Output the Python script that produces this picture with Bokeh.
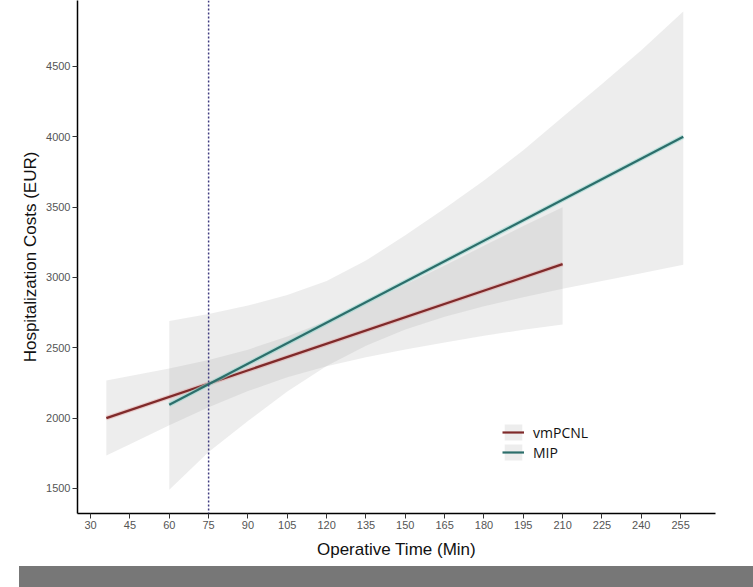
from bokeh.plotting import figure
from bokeh.models import Range1d, Span, Legend, LegendItem, FixedTicker, Div
from bokeh.layouts import column
from bokeh.embed import file_html
from bokeh.resources import INLINE

# ---- data ----
X_TICKS = [30, 45, 60, 75, 90, 105, 120, 135, 150, 165, 180, 195, 210, 225, 240, 255]
Y_TICKS = [1500, 2000, 2500, 3000, 3500, 4000, 4500]

REF_TIME = 75

VM_LINE_X = [36, 210]
VM_LINE_Y = [2000, 3095]
VM_X = [36, 45, 60, 75, 90, 105, 120, 135, 150, 165, 180, 195, 210]
VM_LO = [1735, 1815, 1950, 2078, 2193, 2290, 2368, 2432, 2488, 2538, 2585, 2628, 2665]
VM_HI = [2268, 2300, 2353, 2414, 2487, 2580, 2690, 2815, 2948, 3085, 3225, 3365, 3500]

MIP_LINE_X = [60, 256]
MIP_LINE_Y = [2095, 4000]
MIP_X = [60, 75, 90, 105, 120, 135, 150, 165, 180, 195, 210, 225, 240, 256]
MIP_LO = [1490, 1760, 1980, 2190, 2370, 2515, 2630, 2720, 2795, 2860, 2920, 2975, 3030, 3090]
MIP_HI = [2690, 2740, 2800, 2875, 2975, 3120, 3300, 3490, 3690, 3905, 4140, 4375, 4615, 4890]

FONT = "Liberation Sans"

p = figure(width=745, height=566, output_backend="svg", toolbar_location=None,
           x_range=Range1d(25, 268.3), y_range=Range1d(1322, 4969),
           min_border_left=77, min_border_right=30, min_border_top=0, min_border_bottom=53,
           background_fill_color="white", border_fill_color="white")
p.outline_line_color = None
p.grid.visible = False

band_kw = dict(fill_color="#999999", fill_alpha=0.18)
vm_band = p.varea(x=VM_X, y1=VM_LO, y2=VM_HI, **band_kw)
mip_band = p.varea(x=MIP_X, y1=MIP_LO, y2=MIP_HI, **band_kw)

p.line(VM_LINE_X, VM_LINE_Y, line_color="#e3a3a3", line_width=4.5, line_alpha=0.5)
vm_line = p.line(VM_LINE_X, VM_LINE_Y, line_color="#7f2a2a", line_width=2.2)
p.line(MIP_LINE_X, MIP_LINE_Y, line_color="#9ad8d0", line_width=4.5, line_alpha=0.6)
mip_line = p.line(MIP_LINE_X, MIP_LINE_Y, line_color="#2c6e6b", line_width=2.2)

p.add_layout(Span(location=REF_TIME, dimension="height", line_color="#3f3a80",
                  line_dash="2 2", line_width=1.5))

for ax in (p.xaxis[0], p.yaxis[0]):
    ax.axis_line_color = "black"
    ax.axis_line_width = 1.5
    ax.major_tick_line_color = "#333333"
    ax.major_tick_out = 5
    ax.major_tick_in = 0
    ax.minor_tick_line_color = None
    ax.major_label_text_font = FONT
    ax.major_label_text_font_size = "11px"
    ax.major_label_text_color = "#555555"
    ax.major_label_standoff = 2
    ax.axis_label_text_font = FONT
    ax.axis_label_text_font_size = "17px"
    ax.axis_label_text_font_style = "normal"
    ax.axis_label_text_color = "#111111"

p.xaxis.ticker = FixedTicker(ticks=X_TICKS)
p.yaxis.ticker = FixedTicker(ticks=Y_TICKS)
p.xaxis.axis_label = "Operative Time (Min)"
p.yaxis.axis_label = "Hospitalization Costs (EUR)"
p.xaxis.axis_label_standoff = 8
p.yaxis.axis_label_standoff = 3

legend = Legend(items=[LegendItem(label="vmPCNL", renderers=[vm_band, vm_line]),
                       LegendItem(label="MIP", renderers=[mip_band, mip_line])],
                location=(425, 51), orientation="vertical",
                glyph_width=22, glyph_height=20, label_height=20, spacing=0,
                padding=0, margin=0, label_standoff=9,
                label_text_font="Open Sans", label_text_font_size="14px",
                label_text_font_style="normal", label_text_color="#111111",
                border_line_color=None, background_fill_alpha=0)
p.add_layout(legend)

bar = Div(text="", width=734, height=21, margin=(0, 0, 0, 19),
          styles={"background-color": "#777777"})

layout = column(p, bar, spacing=0)
open("out.html", "w").write(file_html(layout, INLINE))
